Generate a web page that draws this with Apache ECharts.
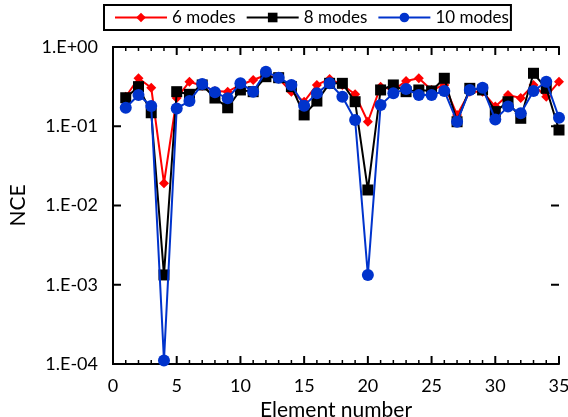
<!DOCTYPE html>
<html>
<head>
<meta charset="utf-8">
<script src="https://cdn.jsdelivr.net/npm/echarts@6/dist/echarts.min.js"></script>
<style>html,body{margin:0;padding:0;background:#fff}#c{width:568px;height:417px}</style>
</head>
<body>
<div id="c"></div>
<script>
var elements = [1,2,3,4,5,6,7,8,9,10,11,12,13,14,15,16,17,18,19,20,21,22,23,24,25,26,27,28,29,30,31,32,33,34,35];
var modes6 = [0.236,0.403,0.306,0.0191,0.227,0.365,0.325,0.279,0.273,0.332,0.383,0.443,0.40,0.273,0.204,0.332,0.395,0.332,0.253,0.114,0.316,0.287,0.372,0.403,0.287,0.332,0.139,0.273,0.273,0.177,0.248,0.227,0.332,0.236,0.365];
var modes8 = [0.229,0.316,0.148,0.00133,0.273,0.253,0.332,0.227,0.171,0.287,0.273,0.422,0.410,0.316,0.139,0.208,0.348,0.348,0.204,0.0157,0.287,0.332,0.273,0.287,0.279,0.403,0.114,0.301,0.287,0.153,0.204,0.126,0.466,0.301,0.0897];
var modes10 = [0.171,0.248,0.180,0.000111,0.168,0.208,0.341,0.268,0.225,0.348,0.273,0.488,0.410,0.332,0.182,0.260,0.348,0.236,0.120,0.00133,0.185,0.260,0.295,0.248,0.248,0.279,0.114,0.287,0.306,0.122,0.177,0.146,0.279,0.365,0.128];
var seriesNames = ['6 modes','8 modes','10 modes'];
var xTicks = [0,5,10,15,20,25,30,35];
var xMinorTicks = [1,2,3,4,6,7,8,9,11,12,13,14,16,17,18,19,21,22,23,24,26,27,28,29,31,32,33,34];
var yTicks = [0.0001,0.001,0.01,0.1,1];
var yTickLabels = ['1.E-04','1.E-03','1.E-02','1.E-01','1.E+00'];

function pairs(vals){ return elements.map(function(e,i){ return [e, vals[i]]; }); }
var font = 'Lato, "Open Sans", sans-serif';
var chart = echarts.init(document.getElementById('c'), null, {renderer:'canvas'});
function yFmt(v){
  var e = Math.round(Math.log10(v));
  var idx = e + 4;
  return yTickLabels[idx] !== undefined ? yTickLabels[idx] : '';
}
var axisLineStyle = {color:'#000', width:2};
var X_MIN = 0, X_MAX = 35, Y_MIN = 0.0001, Y_MAX = 1;

// tick marks drawn through the axes' own scales
function xTickItem(len, w){
  return function(params, api){
    var x = api.value(0);
    var pb = api.coord([x, Y_MIN]);
    var pt = api.coord([x, Y_MAX]);
    return {type:'group', children:[
      {type:'line', shape:{x1:pb[0], y1:pb[1], x2:pb[0], y2:pb[1]-len}, style:{stroke:'#000', lineWidth:w}},
      {type:'line', shape:{x1:pt[0], y1:pt[1], x2:pt[0], y2:pt[1]+len}, style:{stroke:'#000', lineWidth:w}}
    ]};
  };
}
function yTickItem(len, w){
  return function(params, api){
    var y = api.value(1);
    var pl = api.coord([X_MIN, y]);
    var pr = api.coord([X_MAX, y]);
    return {type:'group', children:[
      {type:'line', shape:{x1:pl[0], y1:pl[1], x2:pl[0]+len, y2:pl[1]}, style:{stroke:'#000', lineWidth:w}},
      {type:'line', shape:{x1:pr[0], y1:pr[1], x2:pr[0]-len, y2:pr[1]}, style:{stroke:'#000', lineWidth:w}}
    ]};
  };
}
chart.setOption({
  animation:false,
  backgroundColor:'#fff',
  legend:{
    top:5, left:104,
    data:seriesNames,
    itemWidth:52, itemHeight:12, itemGap:10,
    borderColor:'#000', borderWidth:2, padding:[4,2,4,10],
    textStyle:{fontFamily:font, fontSize:17, color:'#000'}
  },
  grid:{left:113, right:9, top:47, bottom:53, outerBoundsMode:'none', containLabel:false},
  xAxis:[{
    type:'value', min:X_MIN, max:X_MAX, interval:5,
    name:'Element number', nameLocation:'middle', nameGap:29,
    nameTextStyle:{fontFamily:font, fontSize:21, color:'#000'},
    axisLine:{show:true, lineStyle:axisLineStyle},
    axisTick:{show:false},
    axisLabel:{fontFamily:font, fontSize:18, color:'#000', margin:13,
      formatter:function(v){ return xTicks.indexOf(v) >= 0 ? String(v) : ''; }},
    splitLine:{show:false}
  },{
    type:'value', min:X_MIN, max:X_MAX, interval:5, position:'top',
    axisLine:{show:true, lineStyle:axisLineStyle},
    axisTick:{show:false},
    axisLabel:{show:false}, splitLine:{show:false}
  }],
  yAxis:[{
    type:'log', logBase:10, min:Y_MIN, max:Y_MAX,
    name:'NCE', nameLocation:'middle', nameGap:84, nameRotate:90,
    nameTextStyle:{fontFamily:font, fontSize:21, color:'#000'},
    axisLine:{show:true, lineStyle:axisLineStyle},
    axisTick:{show:false},
    axisLabel:{fontFamily:font, fontSize:18, color:'#000', margin:15, formatter:yFmt},
    splitLine:{show:false}
  },{
    type:'log', logBase:10, min:Y_MIN, max:Y_MAX, position:'right',
    axisLine:{show:true, lineStyle:axisLineStyle},
    axisTick:{show:false},
    axisLabel:{show:false}, splitLine:{show:false}
  }],
  series:[{
    type:'custom', name:'xmajor', silent:true, clip:false, z:1,
    data:xTicks.map(function(v){ return [v, Y_MIN]; }),
    renderItem:xTickItem(8, 2)
  },{
    type:'custom', name:'xminor', silent:true, clip:false, z:1,
    data:xMinorTicks.map(function(v){ return [v, Y_MIN]; }),
    renderItem:xTickItem(4, 1.5)
  },{
    type:'custom', name:'ymajor', silent:true, clip:false, z:1,
    data:yTicks.map(function(v){ return [X_MIN, v]; }),
    renderItem:yTickItem(8, 2)
  },{
    name:seriesNames[0], type:'line', data:pairs(modes6),
    symbol:'diamond', symbolSize:10, showAllSymbol:true,
    itemStyle:{color:'#ff0000'}, lineStyle:{color:'#ff0000', width:2}, z:2
  },{
    name:seriesNames[1], type:'line', data:pairs(modes8),
    symbol:'rect', symbolSize:11, showAllSymbol:true,
    itemStyle:{color:'#000000'}, lineStyle:{color:'#000000', width:2}, z:3
  },{
    name:seriesNames[2], type:'line', data:pairs(modes10),
    symbol:'circle', symbolSize:12, showAllSymbol:true,
    itemStyle:{color:'#0033cc'}, lineStyle:{color:'#0033cc', width:2}, z:4
  }]
});
</script>
</body>
</html>
